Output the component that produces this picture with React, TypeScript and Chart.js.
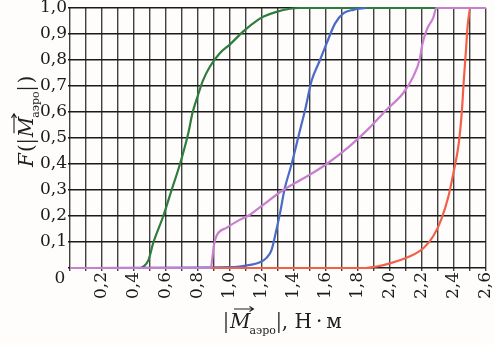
import React, { useEffect, useRef } from "react";
import { Chart, registerables } from "chart.js";

Chart.register(...registerables);

// Data: [x, F(x)]
const violetCurve: number[][] = [
  [0, 0], [0.88, 0], [0.89, 0.04], [0.9, 0.09], [0.917, 0.125], [0.98, 0.155],
  [1.06, 0.185], [1.125, 0.205], [1.19, 0.235], [1.333, 0.3], [1.48, 0.352],
  [1.604, 0.4], [1.75, 0.47], [1.865, 0.535], [1.98, 0.61], [2.083, 0.673],
  [2.146, 0.737], [2.1875, 0.808], [2.2, 0.855], [2.23, 0.917], [2.27, 0.962],
  [2.29, 1.0], [2.6, 1.0],
];
const redCurve: number[][] = [
  [0, 0], [1.85, 0], [1.9, 0.004], [2.0, 0.018], [2.125, 0.045], [2.21, 0.077],
  [2.27, 0.122], [2.32, 0.186], [2.365, 0.275], [2.396, 0.365], [2.43, 0.48],
  [2.45, 0.61], [2.46, 0.71], [2.475, 0.84], [2.485, 0.93], [2.5, 1.0],
];
const blueCurve: number[][] = [
  [0, 0], [1.0, 0.003], [1.125, 0.012], [1.1875, 0.022], [1.23, 0.04], [1.26, 0.07],
  [1.29, 0.147], [1.3125, 0.21], [1.34, 0.3], [1.385, 0.4], [1.4375, 0.53],
  [1.47, 0.61], [1.51, 0.72], [1.5625, 0.8], [1.604, 0.864], [1.656, 0.94],
  [1.71, 0.98], [1.77, 0.993], [1.85, 1.0],
];
const greenCurve: number[][] = [
  [0, 0], [0.44, 0], [0.46, 0.006], [0.49, 0.03], [0.52, 0.096], [0.583, 0.2],
  [0.635, 0.3], [0.6875, 0.4], [0.74, 0.52], [0.765, 0.595], [0.8, 0.665],
  [0.83, 0.72], [0.875, 0.775], [0.9375, 0.827], [1.0, 0.86], [1.083, 0.91],
  [1.177, 0.955], [1.21, 0.967], [1.29, 0.985], [1.375, 0.997], [1.43, 1.0], [2.6, 1.0],
];

const X_MIN = 0;
const X_MAX = 2.6;
const Y_MIN = 0;
const Y_MAX = 1;
const TICK_STEP = 0.1;

const serif = '"DejaVu Serif", "Liberation Serif", serif';

function toPoints(arr: number[][]) {
  return arr.map(([x, y]) => ({ x, y }));
}

function bar(ctx: CanvasRenderingContext2D, x: number) {
  ctx.save();
  ctx.lineWidth = 1.3;
  ctx.beginPath();
  ctx.moveTo(x, -16);
  ctx.lineTo(x, 5);
  ctx.stroke();
  ctx.restore();
}

function vecM(ctx: CanvasRenderingContext2D, x: number, size: number): number {
  ctx.font = `italic ${size}px ${serif}`;
  ctx.fillText("M", x, 0);
  const w = ctx.measureText("M").width;
  const ay = -size * 0.95;
  const x1 = x + 4;
  const x2 = x + w + 3;
  ctx.save();
  ctx.lineWidth = 1.1;
  ctx.beginPath();
  ctx.moveTo(x1, ay);
  ctx.lineTo(x2, ay);
  ctx.moveTo(x2 - 4, ay - 2.5);
  ctx.lineTo(x2, ay);
  ctx.lineTo(x2 - 4, ay + 2.5);
  ctx.stroke();
  ctx.restore();
  ctx.font = `${Math.round(size * 0.55)}px ${serif}`;
  ctx.fillText("аэро", x + w - 1, 6);
  const sw = ctx.measureText("аэро").width;
  return x + w - 1 + sw;
}

const titlesPlugin = {
  id: "titles",
  afterDraw(chart: any) {
    const ctx: CanvasRenderingContext2D = chart.ctx;
    ctx.save();
    ctx.fillStyle = "#1e1e1e";
    ctx.strokeStyle = "#1e1e1e";

    // origin label
    ctx.font = `17px ${serif}`;
    ctx.textAlign = "center";
    ctx.textBaseline = "middle";
    ctx.fillText("0", 60, 279);
    ctx.textAlign = "left";
    ctx.textBaseline = "alphabetic";

    // x title
    ctx.save();
    ctx.translate(225, 328);
    let x = 0;
    bar(ctx, 1);
    x = 5;
    x = vecM(ctx, x, 20);
    bar(ctx, x + 3);
    x += 6;
    ctx.font = `20px ${serif}`;
    ctx.fillText(", Н\u2009·\u2009м", x, 0);
    ctx.restore();

    // y title
    ctx.save();
    ctx.translate(33, 167);
    ctx.rotate(-Math.PI / 2);
    x = 0;
    ctx.font = `italic 20px ${serif}`;
    ctx.fillText("F", x, 0);
    x += ctx.measureText("F").width + 1;
    ctx.font = `20px ${serif}`;
    ctx.fillText("(", x, 0);
    x += ctx.measureText("(").width + 3;
    bar(ctx, x);
    x += 4;
    x = vecM(ctx, x, 20);
    bar(ctx, x + 3);
    x += 8;
    ctx.font = `20px ${serif}`;
    ctx.fillText(")", x, 0);
    ctx.restore();

    ctx.restore();
  },
};

const bgPlugin = {
  id: "bg",
  beforeDraw(chart: any) {
    const ctx = chart.ctx;
    ctx.save();
    ctx.fillStyle = "#fffdfb";
    ctx.fillRect(0, 0, chart.width, chart.height);
    ctx.restore();
  },
};

export default function App() {
  const ref = useRef<HTMLCanvasElement>(null);

  useEffect(() => {
    if (!ref.current) return;
    const common = {
      pointRadius: 0,
      borderWidth: 2.2,
      cubicInterpolationMode: "monotone" as const,
      fill: false,
      clip: 4,
    };
    const chart = new Chart(ref.current, {
      type: "line",
      data: {
        datasets: [
          { ...common, data: toPoints(violetCurve), borderColor: "#c97fcf" },
          { ...common, data: toPoints(redCurve), borderColor: "#f2604a" },
          { ...common, data: toPoints(blueCurve), borderColor: "#4a6cc8" },
          { ...common, data: toPoints(greenCurve), borderColor: "#2f7d3c" },
        ],
      },
      options: {
        animation: false,
        responsive: false,
        devicePixelRatio: 1,
        layout: { padding: { top: 8, right: 8, left: 0, bottom: 0 } },
        plugins: {
          legend: { display: false },
          tooltip: { enabled: false },
        },
        scales: {
          x: {
            type: "linear",
            min: X_MIN,
            max: X_MAX,
            afterFit: (s: any) => {
              s.height = 77;
              s.paddingLeft = 0;
              s.paddingRight = 0;
            },
            afterBuildTicks: (s: any) => {
              const t = [];
              for (let i = 0; i <= Math.round((X_MAX - X_MIN) / TICK_STEP); i++) {
                t.push({ value: +(X_MIN + i * TICK_STEP).toFixed(1) });
              }
              s.ticks = t;
            },
            grid: {
              color: "#404040",
              lineWidth: 1.4,
              drawTicks: true,
              tickLength: 3,
            },
            border: { display: false },
            ticks: {
              autoSkip: false,
              minRotation: 90,
              maxRotation: 90,
              padding: 1,
              color: "#1a1a1a",
              font: { family: serif, size: 17 },
              callback: (v: any) => {
                const k = Math.round(Number(v) * 10);
                if (k === 0 || k % 2 !== 0) return "";
                return (k / 10).toFixed(1).replace(".", ",");
              },
            },
          },
          y: {
            min: Y_MIN,
            max: Y_MAX,
            afterFit: (s: any) => {
              s.width = 70;
              s.paddingTop = 0;
              s.paddingBottom = 0;
            },
            afterBuildTicks: (s: any) => {
              const t = [];
              for (let i = 0; i <= Math.round((Y_MAX - Y_MIN) / TICK_STEP); i++) {
                t.push({ value: +(Y_MIN + i * TICK_STEP).toFixed(1) });
              }
              s.ticks = t;
            },
            grid: {
              color: "#1a1a1a",
              lineWidth: 1.6,
              drawTicks: true,
              tickLength: 2,
            },
            border: { display: false },
            ticks: {
              padding: 1,
              color: "#1a1a1a",
              font: { family: serif, size: 17 },
              callback: (v: any) => {
                const n = Number(v);
                if (Math.abs(n) < 1e-9) return "";
                return n.toFixed(1).replace(".", ",");
              },
            },
          },
        },
      },
      plugins: [bgPlugin, titlesPlugin],
    });
    return () => chart.destroy();
  }, []);

  return (
    <div style={{ position: "fixed", left: 0, top: 0, width: 494, height: 345 }}>
      <canvas ref={ref} width={494} height={345} />
    </div>
  );
}
